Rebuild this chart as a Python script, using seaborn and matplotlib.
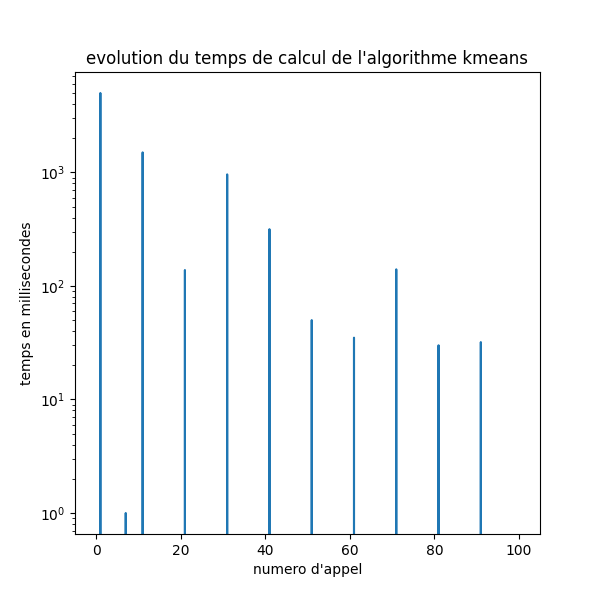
import matplotlib
matplotlib.use('Agg')
import matplotlib.pyplot as plt
import seaborn as sns
import pandas as pd

# Appels ou le temps de calcul est non nul (les autres valent 0)
n_appels = 101
spike_calls = [1, 7, 11, 21, 31, 41, 51, 61, 71, 81, 91]
spike_times = [5000, 1.0, 1500, 138, 960, 316, 50, 35, 140, 30, 32]

calls = list(range(n_appels))
times = [0.0] * n_appels
for c, t in zip(spike_calls, spike_times):
    times[c] = t

df = pd.DataFrame({'appel': calls, 'temps': times})

fig, ax = plt.subplots(figsize=(6, 6), dpi=100)
sns.lineplot(data=df, x='appel', y='temps', ax=ax, color='#1f77b4', linewidth=1.5)
ax.set_yscale('log')
ax.set_title("evolution du temps de calcul de l'algorithme kmeans")
ax.set_xlabel("numero d'appel")
ax.set_ylabel("temps en millisecondes")

fig.savefig('out.png', dpi=100)
